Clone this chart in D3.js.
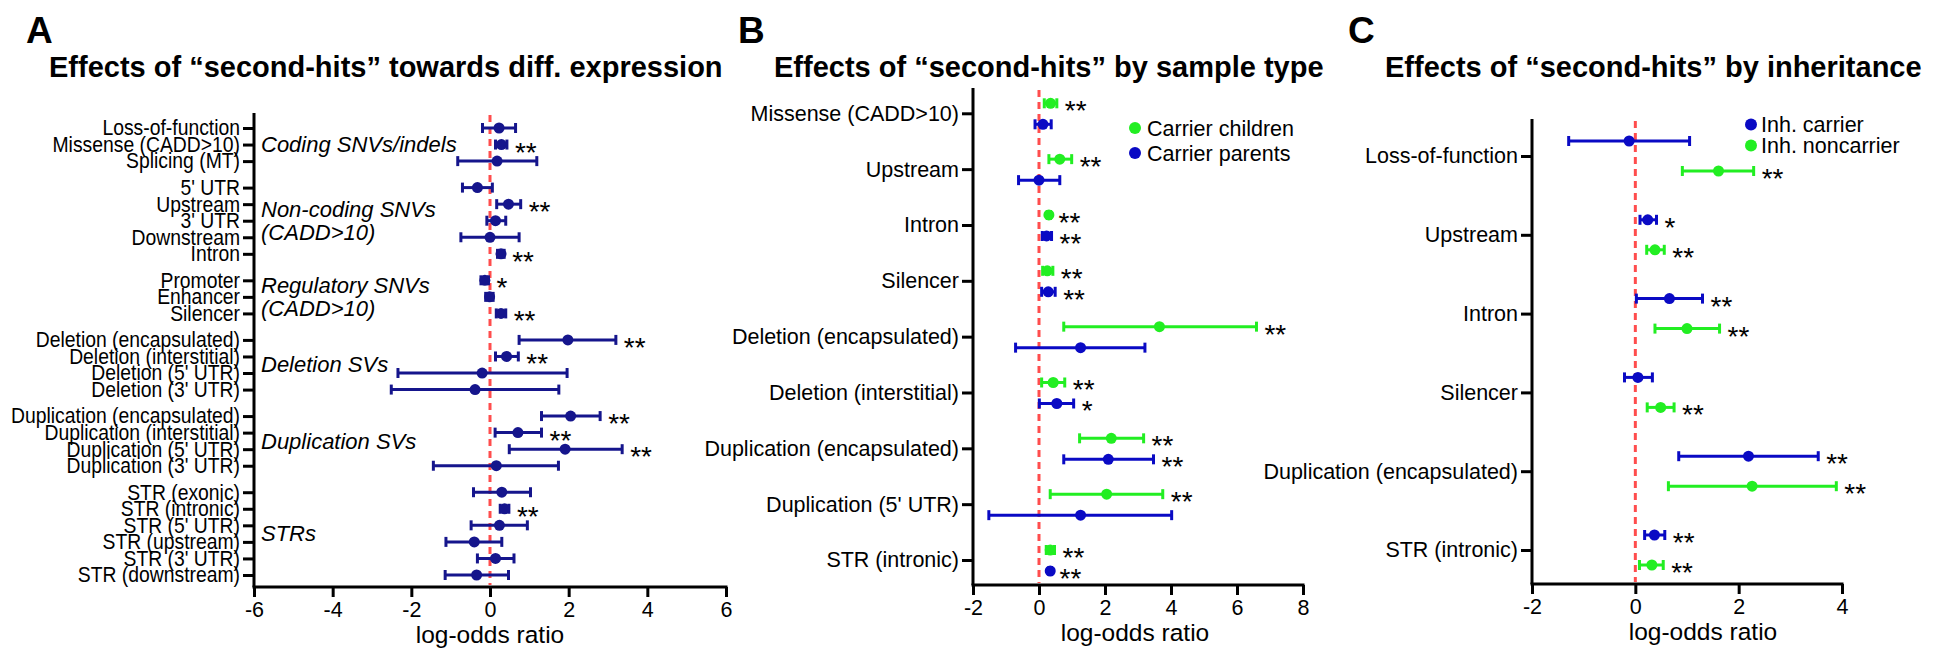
<!DOCTYPE html>
<html>
<head>
<meta charset="utf-8">
<script src="https://cdn.jsdelivr.net/npm/d3@7"></script>
<style>
  html, body { margin: 0; padding: 0; background: #fff; }
  svg { display: block; font-family: "Liberation Sans", Arial, sans-serif; }
</style>
</head>
<body>
<svg id="chart" width="1948" height="651"></svg>
<script>
// ---------------- DATA ----------------
// Panel A
const catsA = ["Loss-of-function", "Missense (CADD>10)", "Splicing (MT)",
  "5' UTR", "Upstream", "3' UTR", "Downstream", "Intron",
  "Promoter", "Enhancer", "Silencer",
  "Deletion (encapsulated)", "Deletion (interstitial)", "Deletion (5' UTR)", "Deletion (3' UTR)",
  "Duplication (encapsulated)", "Duplication (interstitial)", "Duplication (5' UTR)", "Duplication (3' UTR)",
  "STR (exonic)", "STR (intronic)", "STR (5' UTR)", "STR (upstream)", "STR (3' UTR)", "STR (downstream)"];
const groupOfA = [0,0,0, 1,1,1,1,1, 2,2,2, 3,3,3,3, 4,4,4,4, 5,5,5,5,5,5];
const groupLabelsA = [["Coding SNVs/indels"], ["Non-coding SNVs", "(CADD>10)"], ["Regulatory SNVs", "(CADD>10)"],
  ["Deletion SVs"], ["Duplication SVs"], ["STRs"]];
const estA = [0.23, 0.29, 0.18, -0.32, 0.47, 0.14, 0.00, 0.28, -0.13, -0.01, 0.28,
  1.98, 0.42, -0.20, -0.38, 2.05, 0.71, 1.91, 0.16, 0.30, 0.37, 0.24, -0.40, 0.14, -0.34];
const loA = [-0.19, 0.14, -0.82, -0.70, 0.17, -0.08, -0.74, 0.19, -0.23, -0.11, 0.16,
  0.74, 0.14, -2.34, -2.51, 1.31, 0.13, 0.49, -1.44, -0.42, 0.26, -0.48, -1.12, -0.32, -1.14];
const hiA = [0.65, 0.43, 1.19, 0.06, 0.78, 0.40, 0.74, 0.36, -0.04, 0.08, 0.40,
  3.20, 0.72, 1.96, 1.75, 2.80, 1.31, 3.36, 1.74, 1.03, 0.48, 0.95, 0.30, 0.61, 0.47];
const sigA = ["", "**", "", "", "**", "", "", "**", "*", "", "**",
  "**", "**", "", "", "**", "**", "**", "", "", "**", "", "", "", ""];
const ticksA = [-6, -4, -2, 0, 2, 4, 6];

// Panel B
const catsB = ["Missense (CADD>10)", "Upstream", "Intron", "Silencer", "Deletion (encapsulated)",
  "Deletion (interstitial)", "Duplication (encapsulated)", "Duplication (5' UTR)", "STR (intronic)"];
const seriesB = ["Carrier children", "Carrier parents"];
const childEst = [0.35, 0.63, 0.30, 0.25, 3.65, 0.43, 2.19, 2.05, 0.34];
const childLo  = [0.16, 0.30, 0.25, 0.11, 0.75, 0.08, 1.23, 0.34, 0.22];
const childHi  = [0.54, 0.99, 0.35, 0.42, 6.59, 0.78, 3.17, 3.75, 0.47];
const childSig = ["**", "**", "**", "**", "**", "**", "**", "**", "**"];
const parentEst = [0.12, 0.00, 0.23, 0.28, 1.26, 0.54, 2.10, 1.26, 0.34];
const parentLo  = [-0.12, -0.62, 0.10, 0.08, -0.71, 0.01, 0.75, -1.52, 0.30];
const parentHi  = [0.37, 0.63, 0.38, 0.49, 3.21, 1.05, 3.47, 4.02, 0.38];
const parentSig = ["", "", "**", "**", "", "*", "**", "", "**"];
const ticksB = [-2, 0, 2, 4, 6, 8];

// Panel C
const catsC = ["Loss-of-function", "Upstream", "Intron", "Silencer", "Duplication (encapsulated)", "STR (intronic)"];
const seriesC = ["Inh. carrier", "Inh. noncarrier"];
const carrEst = [-0.12, 0.24, 0.66, 0.05, 2.19, 0.37];
const carrLo  = [-1.29, 0.09, 0.02, -0.21, 0.84, 0.18];
const carrHi  = [1.05, 0.41, 1.30, 0.33, 3.54, 0.57];
const carrSig = ["", "*", "**", "", "**", "**"];
const nonEst = [1.61, 0.38, 1.00, 0.49, 2.26, 0.32];
const nonLo  = [0.91, 0.22, 0.38, 0.23, 0.64, 0.08];
const nonHi  = [2.29, 0.56, 1.63, 0.75, 3.89, 0.54];
const nonSig = ["**", "**", "**", "**", "**", "**"];
const ticksC = [-2, 0, 2, 4];

const titles = ["Effects of \u201Csecond-hits\u201D towards diff. expression",
  "Effects of \u201Csecond-hits\u201D by sample type",
  "Effects of \u201Csecond-hits\u201D by inheritance"];
const panelLetters = ["A", "B", "C"];
const xLabel = "log-odds ratio";

// ---------------- STYLE ----------------
const NAVY = "#15158c", BLUE = "#0a0ac4", GREEN = "#22ee22", RED = "#ff4d4d";

const svg = d3.select("#chart");

function panelFrame(cfg) {
  const g = svg.append("g");
  g.append("text").attr("x", cfg.letterX).attr("y", 43)
    .attr("font-size", 37).attr("font-weight", "bold").text(cfg.letter);
  g.append("text").attr("x", cfg.titleX).attr("y", 77)
    .attr("font-size", 29).attr("font-weight", "bold").text(cfg.title);

  const x = d3.scaleLinear().domain(cfg.xDomain).range(cfg.xRange);
  const xa = g.append("g").attr("transform", `translate(0,${cfg.base})`)
    .call(d3.axisBottom(x).tickValues(cfg.ticks).tickSize(10).tickPadding(5).tickFormat(d => String(d)));
  xa.select(".domain").remove();
  xa.selectAll(".tick line").attr("stroke", "#000").attr("stroke-width", 3);
  xa.selectAll(".tick text").attr("font-size", 21.5).attr("fill", "#000")
    .attr("font-family", "Liberation Sans, Arial, sans-serif");
  g.append("line").attr("x1", cfg.xRange[0] - 1.5).attr("x2", cfg.xRange[1] + 1.5)
    .attr("y1", cfg.base).attr("y2", cfg.base).attr("stroke", "#000").attr("stroke-width", 3);
  g.append("line").attr("x1", cfg.xRange[0]).attr("x2", cfg.xRange[0])
    .attr("y1", cfg.top).attr("y2", cfg.base).attr("stroke", "#000").attr("stroke-width", 3);
  g.append("line").attr("x1", x(0)).attr("x2", x(0))
    .attr("y1", cfg.top + 2).attr("y2", cfg.base - 2)
    .attr("stroke", RED).attr("stroke-width", 3).attr("stroke-dasharray", "7,5");
  g.append("text").attr("x", cfg.xLabelX).attr("y", cfg.base + 56)
    .attr("text-anchor", "middle").attr("font-size", 24.5).text(xLabel);
  return { g, x };
}

function yAxis(g, scale, values, labels, xPos, fontSize, sx) {
  const ya = g.append("g").attr("transform", `translate(${xPos},0)`)
    .call(d3.axisLeft(scale).tickValues(values).tickSize(11).tickPadding(3)
      .tickFormat((d, i) => labels[i]));
  ya.select(".domain").remove();
  ya.selectAll(".tick line").attr("stroke", "#000").attr("stroke-width", 3);
  const t = ya.selectAll(".tick text").attr("font-size", fontSize).attr("fill", "#000")
    .attr("font-family", "Liberation Sans, Arial, sans-serif");
  if (sx && sx !== 1) {
    t.attr("x", -14 / sx).attr("transform", `scale(${sx},1)`);
  }
}

function drawSeries(g, x, ys, est, lo, hi, sig, color, r, sw) {
  const idx = d3.range(est.length);
  const s = g.append("g");
  s.selectAll("line.bar").data(idx).join("line")
    .attr("x1", i => x(lo[i])).attr("x2", i => x(hi[i]))
    .attr("y1", i => ys[i]).attr("y2", i => ys[i])
    .attr("stroke", color).attr("stroke-width", sw);
  s.selectAll("line.capL").data(idx).join("line")
    .attr("x1", i => x(lo[i])).attr("x2", i => x(lo[i]))
    .attr("y1", i => ys[i] - 5).attr("y2", i => ys[i] + 5)
    .attr("stroke", color).attr("stroke-width", sw);
  s.selectAll("line.capR").data(idx).join("line")
    .attr("x1", i => x(hi[i])).attr("x2", i => x(hi[i]))
    .attr("y1", i => ys[i] - 5).attr("y2", i => ys[i] + 5)
    .attr("stroke", color).attr("stroke-width", sw);
  s.selectAll("circle").data(idx).join("circle")
    .attr("cx", i => x(est[i])).attr("cy", i => ys[i]).attr("r", r).attr("fill", color);
  s.selectAll("text").data(idx.filter(i => sig[i])).join("text")
    .attr("x", i => x(hi[i]) + 8).attr("y", i => ys[i] + 17)
    .attr("font-size", 28).attr("fill", "#000").text(i => sig[i]);
}

// ---------------- PANEL A ----------------
{
  const gap = 0.6;
  const slotA = catsA.map((c, i) => i + gap * groupOfA[i]);
  const yA = d3.scaleLinear().domain([0, slotA[slotA.length - 1]]).range([128, 575]);
  const { g, x } = panelFrame({
    letter: panelLetters[0], letterX: 26, title: titles[0], titleX: 49,
    xDomain: [-6, 6], xRange: [254, 726], ticks: ticksA, base: 587, top: 113, xLabelX: 490
  });
  yAxis(g, yA, slotA, catsA, 254, 21.5, 0.9);
  groupLabelsA.forEach((lines, gi) => {
    const members = slotA.filter((s, i) => groupOfA[i] === gi);
    const mid = (yA(members[0]) + yA(members[members.length - 1])) / 2;
    const lh = 23;
    lines.forEach((t, li) => {
      g.append("text").attr("x", 261)
        .attr("y", mid + (li - (lines.length - 1) / 2) * lh)
        .attr("dy", "0.35em").attr("font-size", 22).attr("font-style", "italic").text(t);
    });
  });
  drawSeries(g, x, slotA.map(s => yA(s)), estA, loA, hiA, sigA, NAVY, 5.5, 3);
}

// ---------------- PANEL B ----------------
{
  const yB = d3.scalePoint().domain(catsB).range([113.3, 560]);
  const { g, x } = panelFrame({
    letter: panelLetters[1], letterX: 738, title: titles[1], titleX: 774,
    xDomain: [-2, 8], xRange: [973, 1303], ticks: ticksB, base: 585, top: 88, xLabelX: 1135
  });
  yAxis(g, yB, catsB, catsB, 973, 21.5, 1);
  drawSeries(g, x, catsB.map(c => yB(c) - 10), childEst, childLo, childHi, childSig, GREEN, 5.5, 3);
  drawSeries(g, x, catsB.map(c => yB(c) + 11), parentEst, parentLo, parentHi, parentSig, BLUE, 5.5, 3);
  const leg = g.append("g");
  [GREEN, BLUE].forEach((col, i) => {
    leg.append("circle").attr("cx", 1135).attr("cy", 128 + i * 25).attr("r", 6).attr("fill", col);
    leg.append("text").attr("x", 1147).attr("y", 128 + i * 25).attr("dy", "0.35em")
      .attr("font-size", 21.5).text(seriesB[i]);
  });
}

// ---------------- PANEL C ----------------
{
  const yC = d3.scalePoint().domain(catsC).range([156, 550]);
  const { g, x } = panelFrame({
    letter: panelLetters[2], letterX: 1348, title: titles[2], titleX: 1385,
    xDomain: [-2, 4], xRange: [1532, 1842], ticks: ticksC, base: 584, top: 119, xLabelX: 1703
  });
  yAxis(g, yC, catsC, catsC, 1532, 21.5, 1);
  drawSeries(g, x, catsC.map(c => yC(c) - 15), carrEst, carrLo, carrHi, carrSig, BLUE, 5.5, 3);
  drawSeries(g, x, catsC.map(c => yC(c) + 15), nonEst, nonLo, nonHi, nonSig, GREEN, 5.5, 3);
  const leg = g.append("g");
  [BLUE, GREEN].forEach((col, i) => {
    leg.append("circle").attr("cx", 1751).attr("cy", 124.5 + i * 21).attr("r", 6).attr("fill", col);
    leg.append("text").attr("x", 1761).attr("y", 124.5 + i * 21).attr("dy", "0.35em")
      .attr("font-size", 21.5).text(seriesC[i]);
  });
}
</script>
</body>
</html>
